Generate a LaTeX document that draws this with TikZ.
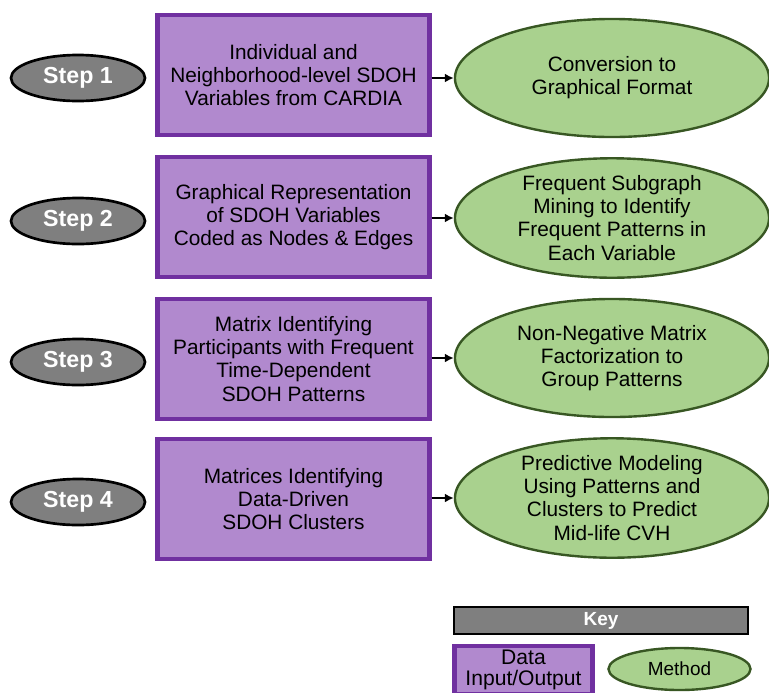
\documentclass[tikz,border=0pt]{standalone}
\usepackage{fontspec}
\setmainfont{Liberation Sans}
\usepackage{tikz}
\usetikzlibrary{shapes.geometric,arrows.meta}
\tikzset{stepnode/.style={ellipse,draw=black,line width=1.9pt,fill=stepgray,text=white,font=\fontsize{16.5}{18}\selectfont\bfseries,minimum width=3.35cm,minimum height=1.15cm,inner sep=0pt},
 datanode/.style={draw=dataline,line width=3pt,fill=datafill,align=center,font=\fontsize{14.8}{16.4}\selectfont,minimum width=6.8cm,minimum height=2.99cm,inner sep=2pt},
 methnode/.style={ellipse,draw=methline,line width=1.7pt,fill=methfill,align=center,font=\fontsize{14.8}{16.4}\selectfont,minimum width=7.85cm,minimum height=2.95cm,inner sep=0pt},
 flow/.style={-{Latex[length=2.2mm,width=2.2mm]},line width=1.4pt}}
\definecolor{stepgray}{RGB}{127,127,127}
\definecolor{datafill}{RGB}{177,137,206}
\definecolor{dataline}{RGB}{112,48,160}
\definecolor{methfill}{RGB}{169,209,142}
\definecolor{methline}{RGB}{56,87,35}

\begin{document}
\begin{tikzpicture}[x=0.025cm,y=-0.025cm]
\path[use as bounding box,fill=white] (0,0) rectangle (769,692);
% step labels
\node[stepnode] (step1) at (78,78) {Step 1};
\node[stepnode] (step2) at (78,221) {Step 2};
\node[stepnode] (step3) at (78,362) {Step 3};
\node[stepnode] (step4) at (78,502) {Step 4};
% data input/output
\node[datanode] (data1) at (293.5,75) {Individual and\\Neighborhood-level SDOH\\Variables from CARDIA};
\node[datanode] (data2) at (293.5,217) {Graphical Representation\\of SDOH Variables\\Coded as Nodes \& Edges};
\node[datanode] (data3) at (293.5,359) {Matrix Identifying\\Participants with Frequent\\Time-Dependent\\SDOH Patterns};
\node[datanode] (data4) at (293.5,499) {Matrices Identifying\\Data-Driven\\SDOH Clusters};
% methods
\node[methnode] (meth1) at (612,78) {Conversion to\\Graphical Format};
\node[methnode] (meth2) at (612,218) {Frequent Subgraph\\Mining to Identify\\Frequent Patterns in\\Each Variable};
\node[methnode] (meth3) at (612,358) {Non-Negative Matrix\\Factorization to\\Group Patterns};
\node[methnode] (meth4) at (612,498) {Predictive Modeling\\Using Patterns and\\Clusters to Predict\\Mid-life CVH};
\draw[flow] (data1.east |- meth1.west) -- (meth1.west);
\draw[flow] (data2.east |- meth2.west) -- (meth2.west);
\draw[flow] (data3.east |- meth3.west) -- (meth3.west);
\draw[flow] (data4.east |- meth4.west) -- (meth4.west);
% key
\node[draw=black,line width=1.9pt,fill=stepgray,text=white,font=\fontsize{13.5}{15}\selectfont\bfseries,minimum width=7.35cm,minimum height=0.68cm,inner sep=0pt] (keybar) at (601,620.5) {Key};
\node[datanode,font=\fontsize{15}{15.5}\selectfont,minimum width=3.45cm,minimum height=1.2cm] (keydata) at (523.5,670) {Data\\Input/Output};
\node[methnode,font=\fontsize{13.5}{15}\selectfont,minimum width=3.55cm,minimum height=1.05cm] (keymeth) at (679.5,669) {Method};
\end{tikzpicture}
\end{document}
